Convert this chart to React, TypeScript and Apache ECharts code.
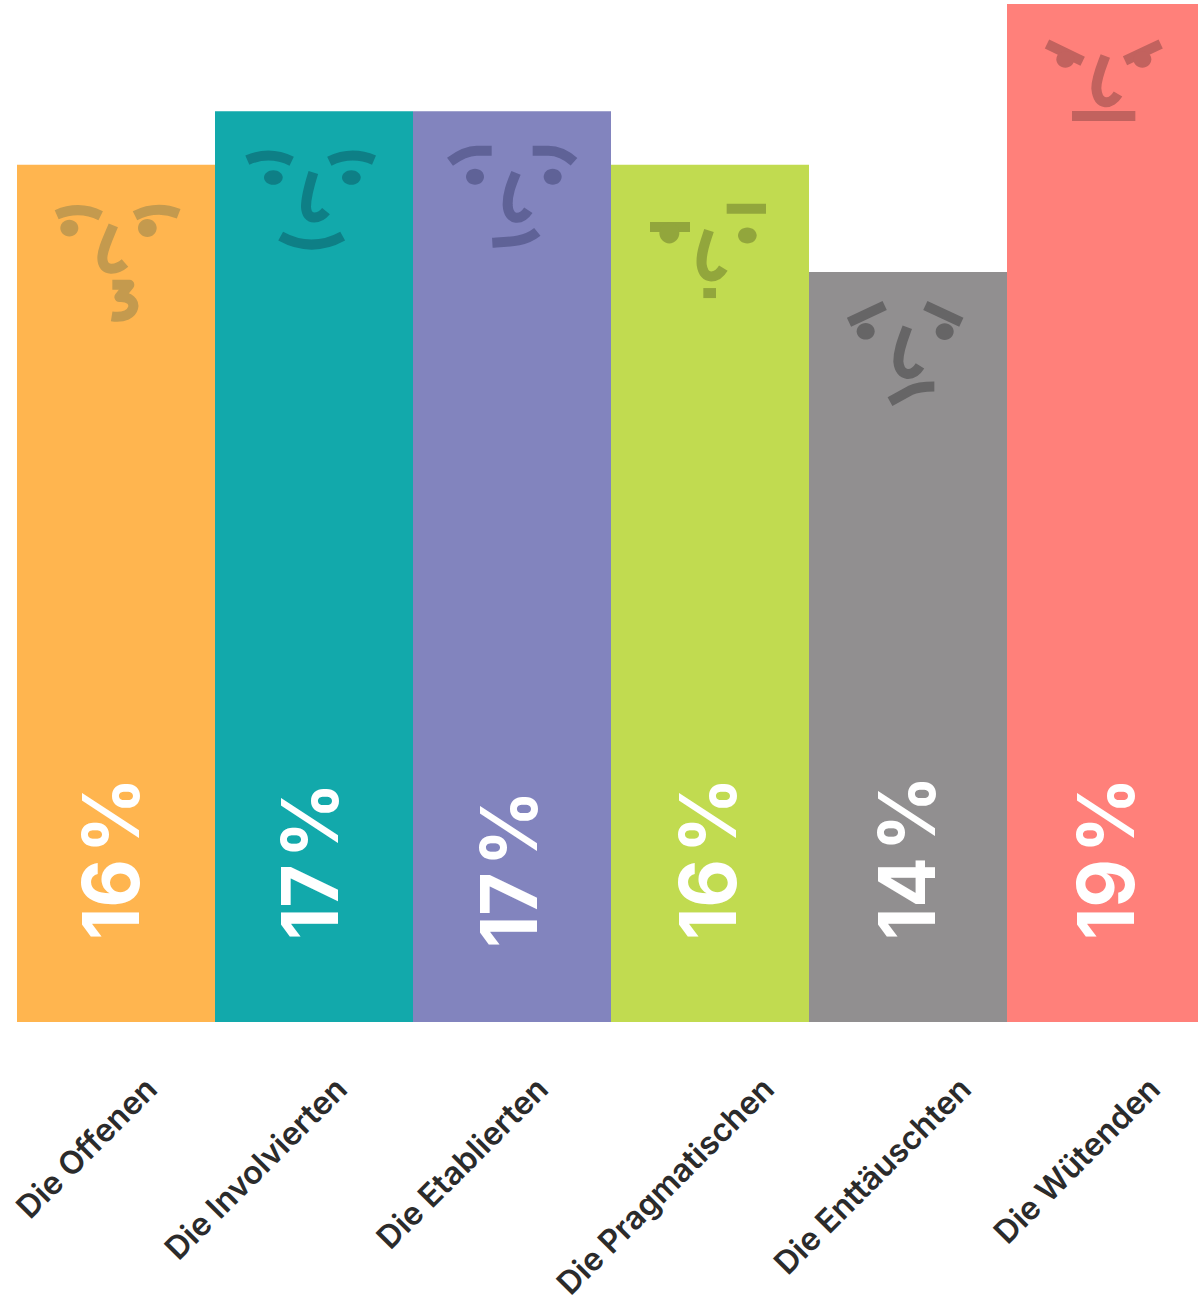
import React, { useEffect, useRef } from "react";
import * as echarts from "echarts";

const categories = ["Die Offenen", "Die Involvierten", "Die Etablierten", "Die Pragmatischen", "Die Enttäuschten", "Die Wütenden"];
const shares = [16, 17, 17, 16, 14, 19];
const barColors = ["#FFB54F", "#12A9AB", "#8284BE", "#C1DB50", "#918F90", "#FF807A"];
const faceColors = ["#C49A4E", "#0E7F86", "#5F6297", "#92A63C", "#666566", "#C2625E"];

// Offsets of the decorations from each bar's top centre / bottom centre, in pixels.
const faceOffsets = [[-86, 25], [-84, 24], [-82, 19], [-80, 25], [-78, 18], [-78, 16]];
const percentOffsets = [[-5.5, -82], [-4.5, -82], [-3.5, -74], [-2.5, -82], [-1.5, -82], [-0.5, -82]];
const labelOffsets = [[35, 61], [27, 61], [30, 61], [58, 61], [57, 61], [48, 61]];

type Eye = [number, number, number, number];
// Face drawings, in 3x units relative to the face's origin.
const faceStrokes: string[][] = [
  ["M80 75 Q148 46 212 78", "M315 78 Q380 46 446 72", "M250 107 C232 150 217 180 217 205 C217 250 262 240 285 220", "M247 285 L298 285 L268 322 C332 318 322 392 245 380"],
  ["M52 75 Q118 46 185 78", "M298 78 Q365 46 432 75", "M250 112 C238 150 228 190 228 215 C230 262 270 250 288 228", "M152 303 Q245 354 338 303"],
  ["M60 95 Q105 62 140 62 L185 62", "M308 62 L355 62 Q395 62 432 95", "M258 128 C245 160 232 190 233 225 C236 275 275 270 295 240", "M187 338 C240 335 285 335 322 305"],
  ["M60 112 L180 112", "M290 57 L408 57", "M237 122 C225 160 212 190 215 225 C222 275 262 265 280 235", "M220 310 L258 310"],
  ["M57 97 L164 47", "M286 47 L394 97", "M232 112 C218 150 205 180 205 215 C210 265 250 260 270 228", "M180 335 L240 302 Q265 290 313 290"],
  ["M57 72 L164 124", "M291 122 L398 72", "M232 108 C218 145 205 175 205 205 C210 260 250 255 270 222", "M132 288 L322 288"],
];
const faceEyes: Eye[][] = [
  [[118, 115, 27, 25], [352, 115, 28, 27]],
  [[130, 127, 28, 22], [364, 127, 28, 22]],
  [[135, 140, 27, 24], [368, 140, 27, 24]],
  [[118, 130, 30, 31], [352, 137, 28, 24]],
  [[107, 124, 27, 25], [344, 125, 27, 25]],
  [[112, 118, 27, 25], [343, 118, 27, 25]],
];

const third = (d: string) => d.replace(/\d+(\.\d+)?/g, (n) => String(Number(n) / 3));

export default function App() {
  const ref = useRef<HTMLDivElement>(null);
  useEffect(() => {
    document.body.style.margin = "0";
    document.documentElement.style.overflow = "hidden";
    const chart = echarts.init(ref.current!, null, { renderer: "svg" });
    const renderItem = (_p: any, api: any) => {
      const i = api.value(0);
      const value = api.value(1);
      const top = api.coord([i, value]);
      const bottom = api.coord([i, 0]);
      const color = faceColors[i];
      const [fx, fy] = faceOffsets[i];
      const [px, py] = percentOffsets[i];
      const [lx, ly] = labelOffsets[i];
      return {
        type: "group",
        children: [
          {
            type: "group",
            x: top[0] + fx,
            y: top[1] + fy,
            children: [
              ...faceStrokes[i].map((d) => ({
                type: "path",
                shape: { pathData: third(d) },
                style: { fill: "none", stroke: color, lineWidth: 10, lineJoin: "round" },
              })),
              ...faceEyes[i].map(([cx, cy, rx, ry]) => ({
                type: "ellipse",
                shape: { cx: cx / 3, cy: cy / 3, rx: rx / 3, ry: ry / 3 },
                style: { fill: color },
              })),
            ],
          },
          {
            type: "text",
            x: bottom[0] + px,
            y: bottom[1] + py,
            rotation: Math.PI / 2,
            scaleX: 0.96,
            style: {
              text: `${value}\u200A%`,
              fill: "#FFFFFF",
              font: "bold 78px Inter, Lato, sans-serif",
              align: "left",
              verticalAlign: "middle",
            },
          },
          {
            type: "text",
            x: bottom[0] + lx,
            y: bottom[1] + ly,
            rotation: Math.PI / 4,
            style: {
              text: categories[i],
              fill: "#2B2B2B",
              font: "600 32px Inter, Lato, sans-serif",
              align: "right",
              verticalAlign: "middle",
            },
          },
        ],
      };
    };
    chart.setOption({
      animation: false,
      backgroundColor: "#FFFFFF",
      grid: { left: 17, top: 4, width: 1188, height: 1018, outerBoundsMode: "none" },
      xAxis: { type: "category", data: categories, show: false },
      yAxis: { type: "value", min: 0, max: 19, show: false },
      series: [
        {
          type: "bar",
          barWidth: "100%",
          data: shares.map((v, i) => ({ value: v, itemStyle: { color: barColors[i] } })),
        },
        {
          type: "custom",
          coordinateSystem: "cartesian2d",
          clip: false,
          z: 5,
          renderItem,
          data: shares.map((v, i) => [i, v]),
        },
      ],
    });
    return () => chart.dispose();
  }, []);
  return <div ref={ref} style={{ width: 1198, height: 1304 }} />;
}
